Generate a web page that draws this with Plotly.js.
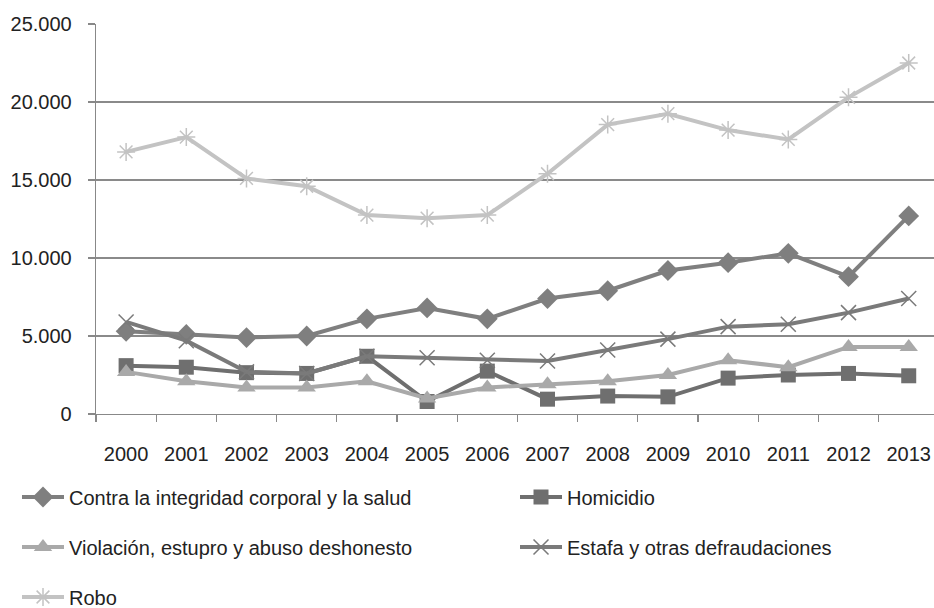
<!DOCTYPE html>
<html>
<head>
<meta charset="utf-8">
<script src="https://cdn.plot.ly/plotly-3.0.1.min.js"></script>
<style>
html,body{margin:0;padding:0;background:#fff;overflow:hidden;}
#chart{width:934px;height:608px;}
</style>
</head>
<body>
<div id="chart"></div>
<script>
const years = ["2000","2001","2002","2003","2004","2005","2006","2007","2008","2009","2010","2011","2012","2013"];
const contra = [5300,5100,4900,5000,6100,6800,6100,7400,7900,9200,9700,10300,8800,12700];
const homicidio = [3100,3000,2650,2600,3700,800,2750,950,1150,1100,2300,2500,2600,2450];
const violacion = [2700,2100,1700,1700,2100,1000,1700,1900,2100,2500,3450,3000,4300,4300];
const estafa = [5900,4700,2700,2600,3700,3600,3450,3400,4100,4800,5600,5750,6500,7400];
const robo = [16800,17750,15100,14600,12750,12550,12750,15400,18550,19250,18200,17600,20300,22500];
const yTicks = [0,5000,10000,15000,20000,25000];

const FONT = "'Liberation Sans', Arial, sans-serif";

function tr(name, y, color, symbol, size, legend, mline) {
  return {
    type: "scatter", mode: "lines+markers", name: name, x: years, y: y,
    legend: legend,
    line: {color: color, width: 4},
    marker: {symbol: symbol, size: size, color: color, line: {color: color, width: mline || 0}},
    hoverinfo: "skip"
  };
}

const data = [
  tr("Contra la integridad corporal y la salud", contra, "#7f7f7f", "diamond", 16, "legend"),
  tr("Homicidio", homicidio, "#6f6f6f", "square", 15, "legend2"),
  tr("Violación, estupro y abuso deshonesto", violacion, "#a9a9a9", "triangle-up", 16, "legend3"),
  tr("Estafa y otras defraudaciones", estafa, "#7a7a7a", "x-thin-open", 15, "legend4", 1.5),
  tr("Robo", robo, "#c3c3c3", "asterisk-open", 15, "legend5", 1.5)
];

function leg(x, y) {
  return {
    orientation: "v", xref: "container", yref: "container", x: x, y: y, xanchor: "left", yanchor: "middle",
    itemwidth: 42,
    font: {family: FONT, size: 20, color: "#222"}, bgcolor: "rgba(0,0,0,0)", borderwidth: 0,
    itemclick: false, itemdoubleclick: false
  };
}
const col1 = 0.0182, col2 = 0.5514;
const row1 = 0.1826, row2 = 0.1003, row3 = 0.0181;

const layout = {
  width: 934, height: 608,
  margin: {l: 96, r: 0, t: 24, b: 194, autoexpand: false},
  paper_bgcolor: "#fff", plot_bgcolor: "#fff",
  separators: ",.",
  font: {family: FONT, size: 20, color: "#222"},
  showlegend: true,
  xaxis: {
    type: "category", range: [-0.5, 13.42], tickson: "boundaries",
    ticks: "outside", ticklen: 7, tickcolor: "#888", tickwidth: 1.3,
    showline: true, linecolor: "#888", linewidth: 1.3, showgrid: false,
    ticklabelstandoff: 22,
    tickfont: {family: FONT, size: 20, color: "#222"}, fixedrange: true
  },
  yaxis: {
    range: [0, 25000], tickmode: "array", tickvals: yTicks, tickformat: ",d",
    ticks: "outside", ticklen: 7, tickcolor: "#888", tickwidth: 1.3,
    showline: true, linecolor: "#888", linewidth: 1.3,
    showgrid: true, gridcolor: "#8a8a8a", gridwidth: 1.3, zeroline: false,
    ticklabelstandoff: 12,
    tickfont: {family: FONT, size: 20, color: "#222"}, fixedrange: true
  },
  legend: leg(col1, row1),
  legend2: leg(col2, row1),
  legend3: leg(col1, row2),
  legend4: leg(col2, row2),
  legend5: leg(col1, row3)
};

Plotly.newPlot("chart", data, layout, {displayModeBar: false, staticPlot: true});
</script>
</body>
</html>
